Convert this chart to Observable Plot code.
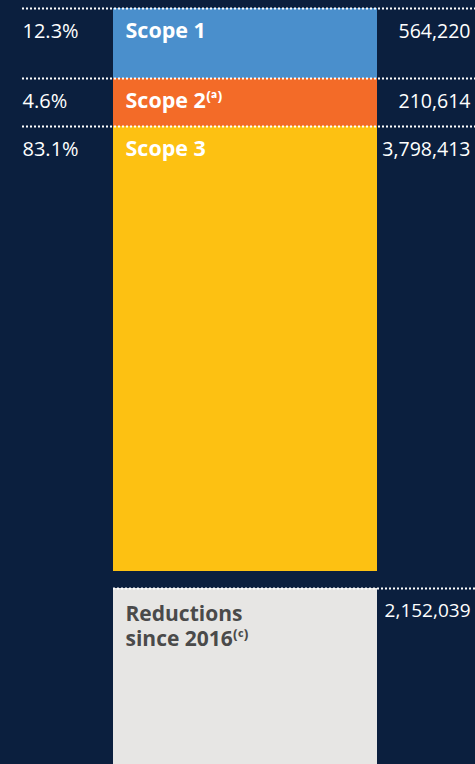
<!DOCTYPE html>
<html>
<head>
<meta charset="utf-8">
<script src="https://cdn.jsdelivr.net/npm/d3@7"></script>
<script src="https://cdn.jsdelivr.net/npm/@observablehq/plot@0.6"></script>
<style>
  html, body { margin: 0; padding: 0; background: #0b1f3e; overflow: hidden; }
  body { width: 475px; height: 764px; }
  svg { display: block; }
</style>
</head>
<body>
<div id="chart"></div>
<script>
// ---- data ----
const scopes = ["Scope 1", "Scope 2⁽ᵃ⁾", "Scope 3"];
const emissions = [564220, 210614, 3798413];
const shares = ["12.3%", "4.6%", "83.1%"];
const scopeColors = ["#4a8fcc", "#f36b28", "#fdc112"];
const reductionLabel = "Reductions\nsince 2016⁽ᶜ⁾";
const reductions = [2152039];

// ---- table ----
let acc = 0;
const rows = scopes.map((s, i) => {
  const r = {scope: s, value: emissions[i], share: shares[i], color: scopeColors[i], y1: acc, y2: acc + emissions[i]};
  acc += emissions[i];
  return r;
});
const fmt = d3.format(",");

const font = "'Open Sans', Lato, sans-serif";
const W = 475;

// piecewise value→band mapping: each scope keeps a readable band height
const bandPx = [70, 48, 445];
const bandEdges = d3.cumsum([0, ...bandPx]);
const piecewise = d3.scaleLinear().domain([0, ...rows.map(d => d.y2)]).range(bandEdges);
const pxPerUnit = bandPx[2] / emissions[2];

const dotted = {stroke: "white", strokeWidth: 2, strokeDasharray: "2,2"};

const plot1 = Plot.plot({
  width: W, height: 580,
  marginLeft: 113, marginRight: 98, marginTop: 8, marginBottom: 9,
  style: {background: "transparent", fontFamily: font, overflow: "visible"},
  x: {type: "band", domain: ["Emissions"], padding: 0, axis: null},
  y: {transform: piecewise, domain: [0, bandEdges[3]], reverse: true, axis: null},
  marks: [
    Plot.rectY(rows, {x: () => "Emissions", y1: "y1", y2: "y2", fill: "color"}),
    Plot.ruleY(rows, {y: "y1", ...dotted, insetLeft: -91, insetRight: -98}),
    Plot.text(rows, {y: "y1", text: "scope", frameAnchor: "left", textAnchor: "start", dx: 12, dy: 23,
      lineAnchor: "middle", fill: "white", fontSize: 21.5, fontWeight: 700}),
    Plot.text(rows, {y: "y1", text: "share", frameAnchor: "left", textAnchor: "start", dx: -91, dy: 23,
      lineAnchor: "middle", fill: "white", fontSize: 20}),
    Plot.text(rows, {y: "y1", text: d => fmt(d.value), frameAnchor: "right", textAnchor: "end", dx: 93, dy: 23,
      lineAnchor: "middle", fill: "white", fontSize: 19.5})
  ]
});

const red = reductions.map(v => ({label: reductionLabel, value: v}));
const redPx = reductions[0] * pxPerUnit;
const plot2 = Plot.plot({
  width: W, height: Math.ceil(8 + redPx),
  marginLeft: 113, marginRight: 98, marginTop: 8, marginBottom: 0,
  style: {background: "transparent", fontFamily: font, overflow: "visible"},
  x: {type: "band", domain: ["Emissions"], padding: 0, axis: null},
  y: {domain: [0, reductions[0]], reverse: true, axis: null},
  marks: [
    Plot.rectY(red, {x: () => "Emissions", y1: 0, y2: "value", fill: "#e7e6e4"}),
    Plot.ruleY([0], {...dotted, insetRight: -98}),
    Plot.text(red, {y: 0, text: "label", frameAnchor: "left", textAnchor: "start", dx: 12, dy: 15,
      lineAnchor: "top", lineHeight: 1.19, fill: "#4a4a4a", fontSize: 21, fontWeight: 700}),
    Plot.text(red, {y: 0, text: d => fmt(d.value), frameAnchor: "right", textAnchor: "end", dx: 93, dy: 22,
      lineAnchor: "middle", fill: "white", fontSize: 19})
  ]
});

const chart = document.getElementById("chart");
chart.append(plot1, plot2);
</script>
</body>
</html>
